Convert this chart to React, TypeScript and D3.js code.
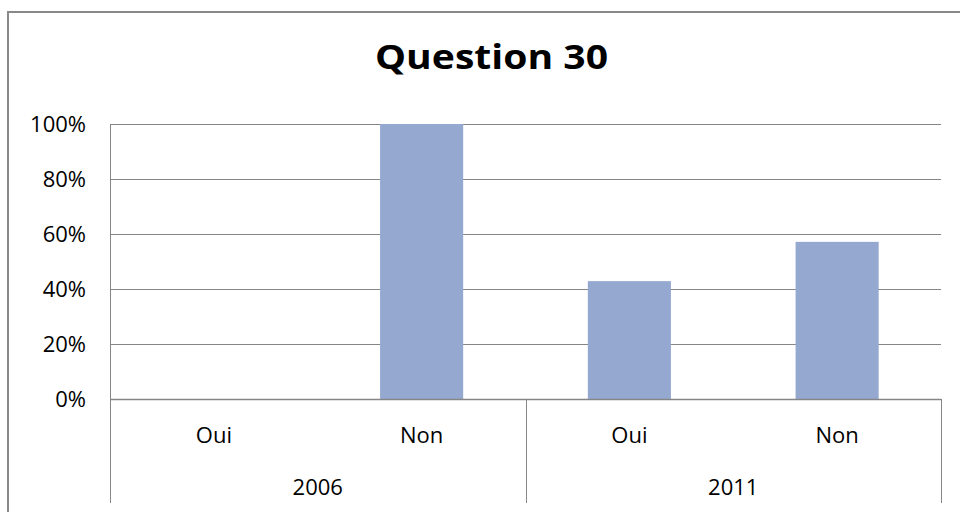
import React from "react";
import * as d3 from "d3";

const years = ["2006", "2011"];
const answers = ["Oui", "Non"];
const values2006 = [0, 100];
const values2011 = [42.86, 57.14];
const yTicks = [0, 20, 40, 60, 80, 100];
const title = "Question 30";

const W = 960;
const H = 512;
const FONT = "'Open Sans', 'DejaVu Sans', sans-serif";

export default function App() {
  const left = 110, right = 941, top = 124, bottom = 399;
  const axisBottom = 503;
  const rows = [
    ...answers.map((a, i) => ({ year: years[0], answer: a, value: values2006[i] })),
    ...answers.map((a, i) => ({ year: years[1], answer: a, value: values2011[i] })),
  ];
  const keys = rows.map((r) => r.year + "-" + r.answer);
  const x = d3.scaleBand<string>().domain(keys).range([left, right]).paddingInner(0.6).paddingOuter(0.3);
  const xCat = d3.scaleBand<string>().domain(keys).range([left, right]);
  const xYear = d3.scaleBand<string>().domain(years).range([left, right]);
  const y = d3.scaleLinear().domain([0, 100]).range([bottom, top]);
  const grid = "#868686";

  return (
    <div style={{ position: "fixed", left: 0, top: 0 }}>
      <svg width={W} height={H} style={{ display: "block", background: "#fff" }}>
        <rect x={8} y={12} width={1000} height={600} fill="#fff" stroke="#898989" strokeWidth={2} />
        <text
          x={375}
          y={69}
          textLength={233}
          lengthAdjust="spacingAndGlyphs"
          fontFamily={FONT}
          fontWeight="bold"
          fontSize={34}
          fill="#000"
        >
          {title}
        </text>
        {yTicks.map((t) => (
          <g key={t}>
            <line x1={left} x2={right} y1={Math.round(y(t)) + 0.5} y2={Math.round(y(t)) + 0.5} stroke={grid} strokeWidth={1} />
            <text x={86} y={y(t)} dy="0.35em" textAnchor="end" fontFamily={FONT} fontSize={22} fill="#000">
              {t + "%"}
            </text>
          </g>
        ))}
        <line x1={left + 0.5} x2={left + 0.5} y1={top} y2={axisBottom} stroke={grid} strokeWidth={1} />
        {rows.map((r, i) => (
          <rect
            key={i}
            x={x(keys[i])}
            width={x.bandwidth()}
            y={y(r.value)}
            height={bottom - y(r.value)}
            fill="#95A9D0"
          />
        ))}
        <line x1={left} x2={right} y1={bottom + 0.5} y2={bottom + 0.5} stroke={grid} strokeWidth={1.5} />
        {years.map((yr) => (
          <line
            key={yr}
            x1={Math.round((xYear(yr) as number) + xYear.bandwidth()) + 0.5}
            x2={Math.round((xYear(yr) as number) + xYear.bandwidth()) + 0.5}
            y1={bottom}
            y2={axisBottom}
            stroke={grid}
            strokeWidth={1}
          />
        ))}
        {rows.map((r, i) => (
          <text
            key={"l" + i}
            x={(xCat(keys[i]) as number) + xCat.bandwidth() / 2}
            y={443}
            textAnchor="middle"
            fontFamily={FONT}
            fontSize={22}
            fill="#000"
          >
            {r.answer}
          </text>
        ))}
        {years.map((yr) => (
          <text
            key={"y" + yr}
            x={(xYear(yr) as number) + xYear.bandwidth() / 2}
            y={495}
            textAnchor="middle"
            fontFamily={FONT}
            fontSize={22}
            fill="#000"
          >
            {yr}
          </text>
        ))}
      </svg>
    </div>
  );
}
